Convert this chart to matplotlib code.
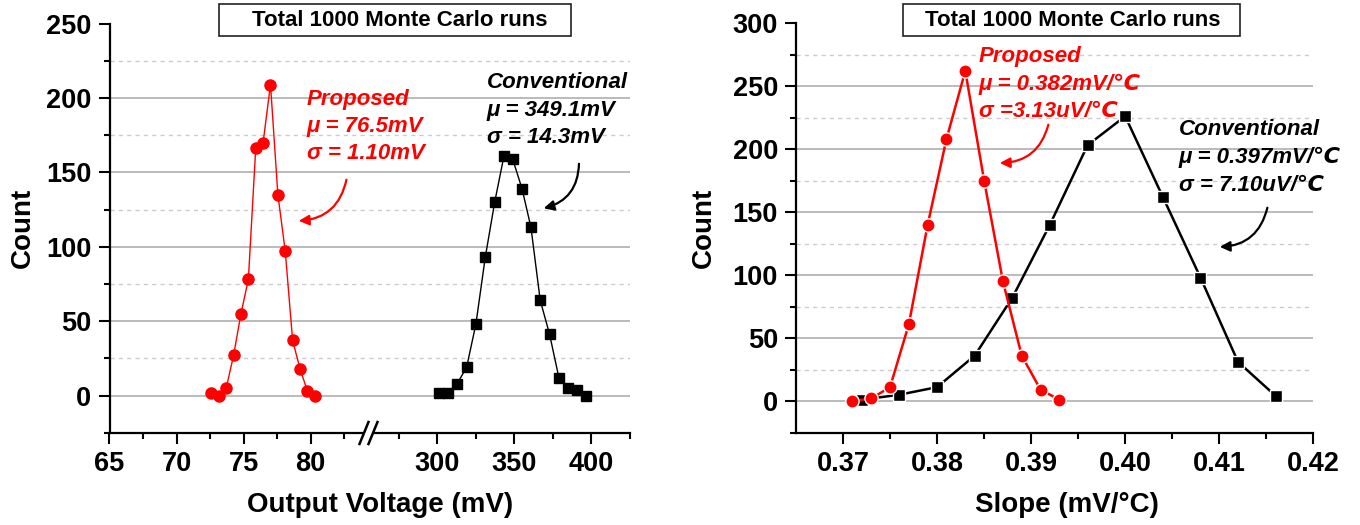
import matplotlib
matplotlib.use('Agg')
import matplotlib.pyplot as plt
from matplotlib.patches import Rectangle
from matplotlib.lines import Line2D
from matplotlib.ticker import MultipleLocator, FixedLocator

# ---------------- data ----------------
prop_volt = [72.6, 73.15, 73.7, 74.25, 74.8, 75.35, 75.9, 76.45, 77.0, 77.55,
             78.1, 78.65, 79.2, 79.75, 80.3]
prop_volt_cnt = [2, 0, 5, 27, 55, 78, 166, 170, 209, 135, 97, 37, 18, 3, 0]

conv_volt = [301.4, 307.2, 313.0, 319.1, 325.1, 331.2, 337.3, 343.3, 348.9,
             355.0, 360.8, 366.8, 372.9, 378.9, 384.6, 390.6, 396.6]
conv_volt_cnt = [2, 2, 8, 19, 48, 93, 130, 161, 159, 139, 113, 64, 41, 12, 5, 4, 0]

prop_slope = [0.371, 0.373, 0.375, 0.377, 0.379, 0.381, 0.383, 0.385, 0.387,
              0.389, 0.391, 0.393]
prop_slope_cnt = [0, 2, 11, 61, 140, 208, 262, 175, 95, 36, 9, 1]

conv_slope = [0.372, 0.376, 0.380, 0.384, 0.388, 0.392, 0.396, 0.400, 0.404,
              0.408, 0.412, 0.416]
conv_slope_cnt = [1, 5, 11, 36, 82, 140, 203, 226, 162, 98, 31, 4]

left_xticks_a = [65, 70, 75, 80]
left_xticks_b = [300, 350, 400]
right_xticks = [0.37, 0.38, 0.39, 0.40, 0.41, 0.42]
right_xticklabels = ["0.37", "0.38", "0.39", "0.40", "0.41", "0.42"]

# ---------------- figure ----------------
W, H = 1360, 525
FONT = ['Liberation Sans', 'DejaVu Sans']
plt.rcParams['font.family'] = FONT
plt.rcParams['font.weight'] = 'bold'
fig = plt.figure(figsize=(13.6, 5.25), dpi=100)


def fx(px):
    return px / W


def fy(py):
    return 1 - py / H


def make_ax(x0, x1, y0, y1):
    return fig.add_axes([fx(x0), fy(y1), fx(x1) - fx(x0), fy(y0) - fy(y1)])


def base_style(ax, ymax):
    ax.set_ylim(-25, ymax)
    ax.yaxis.set_major_locator(MultipleLocator(50))
    ax.yaxis.set_minor_locator(MultipleLocator(25))
    for s in ['top', 'right']:
        ax.spines[s].set_visible(False)
    for s in ['left', 'bottom']:
        ax.spines[s].set_linewidth(1.6)
    ax.tick_params(axis='both', which='major', direction='out', length=8,
                   width=1.5, labelsize=19.5, pad=5)
    ax.tick_params(axis='both', which='minor', direction='out', length=4.5,
                   width=1.5)
    for v in range(0, ymax, 50):
        ax.axhline(v, color='#a8a8a8', lw=1.1, zorder=0)
    for v in range(25, ymax, 50):
        ax.axhline(v, color='#cccccc', lw=1.0, ls=(0, (3, 3)), zorder=0)
    ax.set_facecolor('none')


# left panel: broken x-axis
brk = 368.5
axA = make_ax(109.5, brk, 23.5, 432.7)
axB = make_ax(brk, 630, 23.5, 432.7)
base_style(axA, 250)
base_style(axB, 250)
axA.set_xlim(65, 65 + (brk - 110) / 13.39)
axA.xaxis.set_major_locator(FixedLocator(left_xticks_a))
axA.xaxis.set_minor_locator(MultipleLocator(2.5))
axB.set_xlim(300 - (437.2 - brk) / 1.543, 425.01)
axB.xaxis.set_major_locator(FixedLocator(left_xticks_b))
axB.xaxis.set_minor_locator(MultipleLocator(25))
axB.spines['left'].set_visible(False)
axB.tick_params(axis='y', which='both', left=False, labelleft=False)

axA.plot(prop_volt, prop_volt_cnt, color='red', lw=1.0, marker='o', ms=8,
         mec='red', clip_on=False, zorder=3)
axB.plot(conv_volt, conv_volt_cnt, color='black', lw=1.0, marker='s', ms=6.8,
         clip_on=False, zorder=3)

# break marks
fig.add_artist(Rectangle((fx(brk - 5), fy(436)), fx(10), fy(429) - fy(436),
                         transform=fig.transFigure, facecolor='white',
                         edgecolor='none', zorder=10))
for cx in (brk - 4.5, brk + 4.5):
    fig.add_artist(Line2D([fx(cx - 4.5), fx(cx + 4.5)], [fy(444), fy(422)],
                          transform=fig.transFigure, color='black', lw=1.8,
                          zorder=11))

# right panel
axR = make_ax(796, 1313.3, 23, 432.5)
base_style(axR, 300)
axR.set_xlim(0.365, 0.42)
axR.set_xticks(right_xticks)
axR.set_xticklabels(right_xticklabels)
axR.xaxis.set_minor_locator(FixedLocator([0.375, 0.385, 0.395, 0.405, 0.415]))
axR.plot(conv_slope, conv_slope_cnt, color='black', lw=1.8, marker='s', ms=8,
         mec='white', mew=1.0, clip_on=False, zorder=3)
axR.plot(prop_slope, prop_slope_cnt, color='red', lw=1.8, marker='o', ms=9.5,
         mec='white', mew=1.0, clip_on=False, zorder=4)

# axis labels
fig.text(fx(23), fy(228), "Count", rotation=90, ha='center', va='center',
         fontsize=20, fontweight='bold')
fig.text(fx(704), fy(228), "Count", rotation=90, ha='center', va='center',
         fontsize=20, fontweight='bold')
fig.text(fx(380), fy(505), "Output Voltage (mV)", ha='center', va='center',
         fontsize=20, fontweight='bold')
fig.text(fx(1067), fy(505), "Slope (mV/°C)", ha='center', va='center',
         fontsize=20, fontweight='bold')

# title boxes
for (bx0, bx1, tx) in [(219, 571, 400), (903, 1240, 1073)]:
    fig.add_artist(Rectangle((fx(bx0), fy(36)), fx(bx1) - fx(bx0),
                             fy(4) - fy(36), transform=fig.transFigure,
                             facecolor='white', edgecolor='#222222', lw=1.2,
                             zorder=12))
    fig.text(fx(tx), fy(20), "Total 1000 Monte Carlo runs", ha='center',
             va='center', fontsize=16, fontweight='bold', zorder=13)

# annotations
def note(x, y_centers, lines, color):
    for yc, s in zip(y_centers, lines):
        fig.text(fx(x), fy(yc + 8), s, ha='left', va='baseline', fontsize=16,
                 fontweight='bold', fontstyle='italic', color=color,
                 family=FONT, zorder=13)


def arrow(p0, p1, color):
    fig.add_artist(matplotlib.patches.FancyArrowPatch(
        (fx(p0[0]), fy(p0[1])), (fx(p1[0]), fy(p1[1])),
        transform=fig.transFigure, connectionstyle='arc3,rad=-0.4',
        arrowstyle='-|>', mutation_scale=15, color=color, lw=1.6, zorder=13))


note(307, [97, 124, 151], ["Proposed", "μ = 76.5mV", "σ = 1.10mV"], 'red')
note(487, [80, 108, 135], ["Conventional", "μ = 349.1mV", "σ = 14.3mV"], 'black')
note(979, [54, 82, 109], ["Proposed", "μ = 0.382mV/℃", "σ =3.13uV/℃"], 'red')
note(1179, [127, 155, 183], ["Conventional", "μ = 0.397mV/℃", "σ = 7.10uV/℃"], 'black')

arrow((347, 177), (296, 221), 'red')
arrow((579, 161), (541, 209), 'black')
arrow((1049, 122), (997, 163), 'red')
arrow((1268, 205), (1217, 247), 'black')

fig.savefig('out.png', dpi=100)
